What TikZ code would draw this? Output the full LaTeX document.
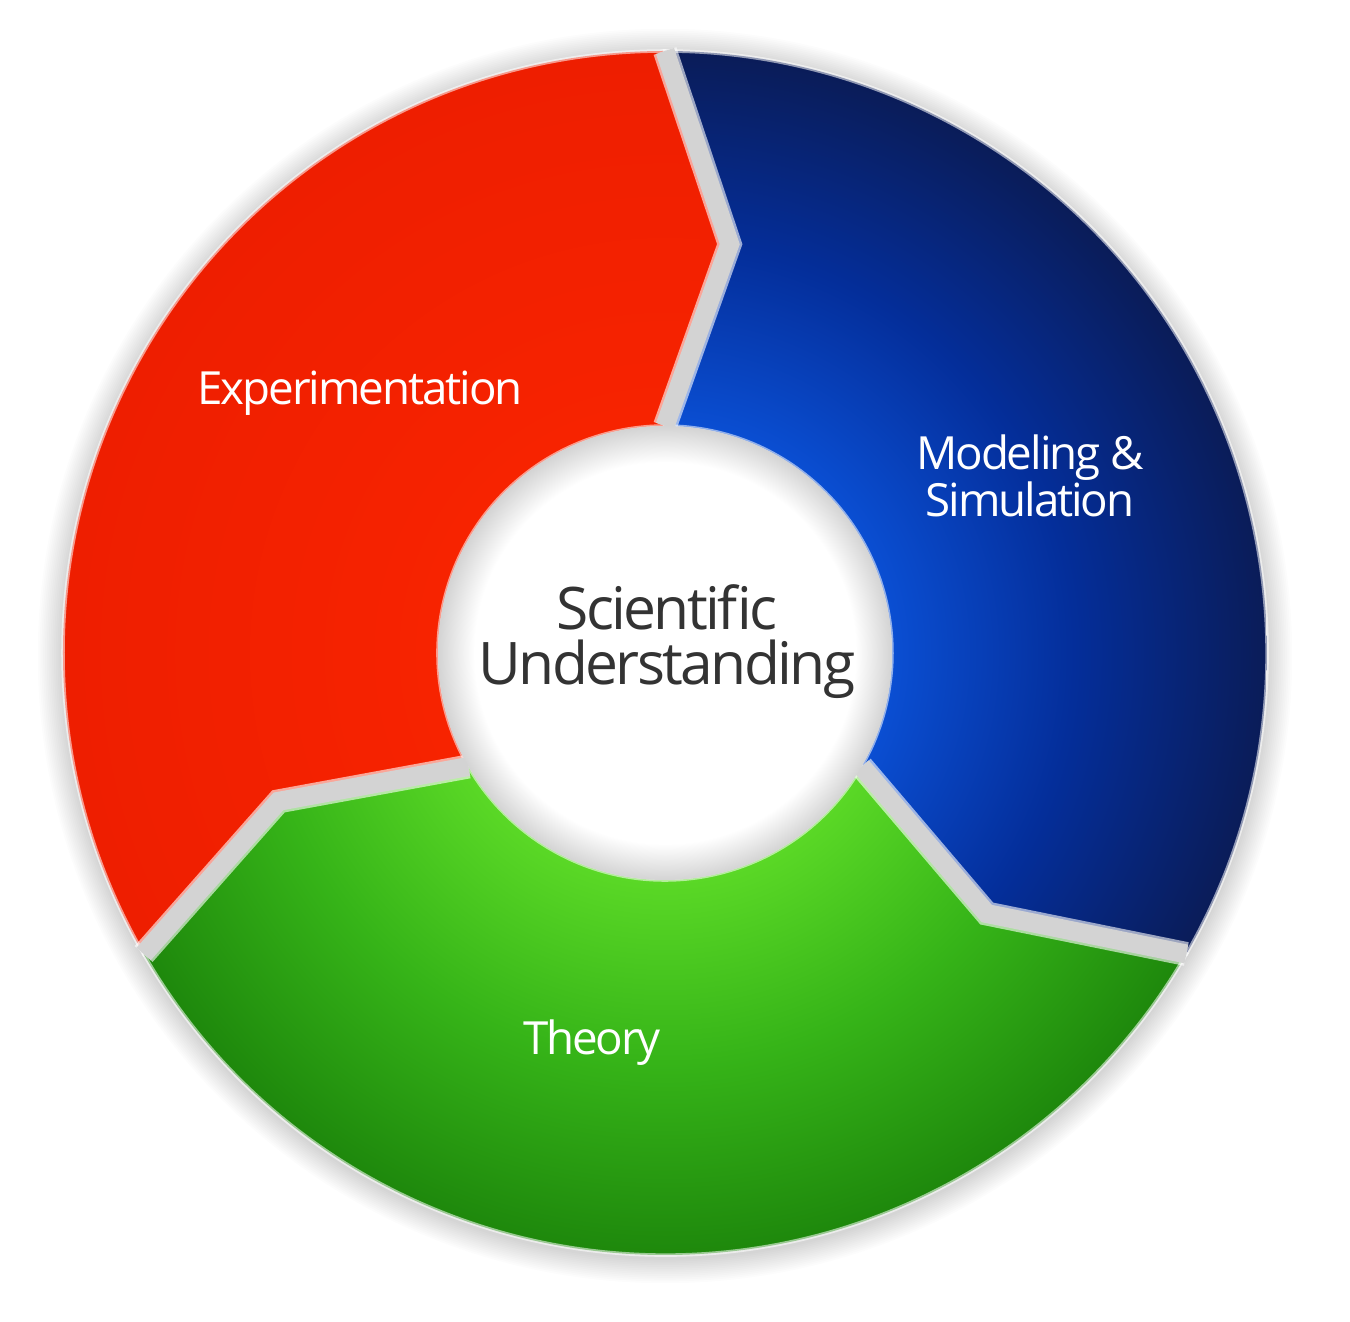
\documentclass[tikz,border=0pt]{standalone}
\usepackage{fontspec}
\newfontfamily\ringfont[LetterSpace=-4.5]{Open Sans}

\definecolor{redIn}{HTML}{F72300}
\definecolor{redOut}{HTML}{EE1E00}
\definecolor{blueIn}{HTML}{0A4ED2}
\definecolor{blueMid}{HTML}{042E9A}
\definecolor{blueOut}{HTML}{0A1C58}
\definecolor{greenIn}{HTML}{5AD826}
\definecolor{greenMid}{HTML}{36B418}
\definecolor{greenOut}{HTML}{1E880C}
\definecolor{gapgray}{HTML}{D3D3D3}

% radial glows, 25bp = radius of the shaded circle
\pgfdeclareradialshading{redglow}{\pgfpoint{0bp}{0bp}}%
  {color(0bp)=(redIn); color(9.5bp)=(redIn); color(25bp)=(redOut); color(50bp)=(redOut)}
\pgfdeclareradialshading{blueglow}{\pgfpoint{0bp}{0bp}}%
  {color(0bp)=(blueIn); color(9.5bp)=(blueIn); color(17bp)=(blueMid); color(25bp)=(blueOut); color(50bp)=(blueOut)}
\pgfdeclareradialshading{greenglow}{\pgfpoint{0bp}{0bp}}%
  {color(0bp)=(greenIn); color(9.5bp)=(greenIn); color(17bp)=(greenMid); color(25bp)=(greenOut); color(50bp)=(greenOut)}
\pgfdeclareradialshading{hubglow}{\pgfpoint{0bp}{0bp}}%
  {color(0bp)=(white); color(21bp)=(white); color(25bp)=(black!17); color(50bp)=(black!17)}

\newcommand{\Rout}{6.02}
\newcommand{\Rmid}{4.14}
\newcommand{\Rin}{2.27}
% one arrow-shaped ring segment, clockwise end at angle #1
\newcommand{\segpath}[1]{(#1:\Rout) arc[start angle=#1, delta angle=120, radius=\Rout]
  -- (#1+111:\Rmid) -- (#1+120:\Rin) arc[start angle=#1+120, delta angle=-120, radius=\Rin]
  -- (#1-9:\Rmid) -- cycle}

\begin{document}
\begin{tikzpicture}[
    seglabel/.style={font=\ringfont\fontsize{13}{13.4}\selectfont, text=white, inner sep=0pt},
    hubtext/.style={font=\ringfont\fontsize{16.7}{15.6}\selectfont, text=black!80,
                    align=center, inner sep=0pt},
    segedge/.style={draw=white, draw opacity=0.55, line width=1pt},
    gapedge/.style={draw=white, draw opacity=0.6, line width=0.24cm},
    gap/.style={draw=gapgray, line width=0.19cm},
  ]
  \useasboundingbox (-6.65,-6.69) rectangle (6.85,6.53);

  % --- Soft shadow round the ring ----------------------------------------
  \foreach \k in {1,...,14}
    \fill[black, fill opacity=0.011] (0,-0.03) circle ({\Rout+0.018*\k});

  % --- Segments ------------------------------------------------------------
  \foreach \a/\shd in {90/redglow, -30/blueglow, 210/greenglow} {
    \begin{scope}
      \clip \segpath{\a};
      \shade[shading=\shd] (0,0) circle (\Rout);
    \end{scope}
    \draw[segedge] \segpath{\a};
  }

  % --- Gaps between segments -------------------------------------------------
  \foreach \a in {90, -30, 210} {
    \draw[gapedge] (\a:\Rout) -- (\a-9:\Rmid) -- (\a:\Rin);
    \draw[gap] (\a:\Rout) -- (\a-9:\Rmid) -- (\a:\Rin);
  }

  % --- Hub -------------------------------------------------------------------
  \shade[shading=hubglow] (0,0) circle (\Rin);
  \node[hubtext] (hub) at (0.02,0.11) {Scientific\\Understanding};

  % --- Labels ----------------------------------------------------------------
  \node[seglabel, anchor=base] (expt) at (-3.05,2.48) {Experimentation};
  \node[seglabel, align=center] (model) at (3.65,1.77) {Modeling \&\\Simulation};
  \node[seglabel, anchor=base] (theory) at (-0.73,-4.02) {Theory};

\end{tikzpicture}
\end{document}
